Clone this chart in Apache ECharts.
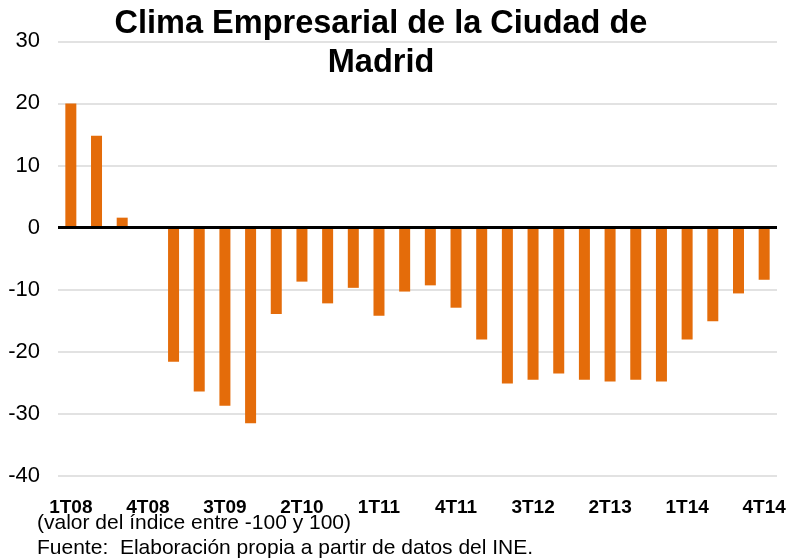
<!DOCTYPE html>
<html>
<head>
<meta charset="utf-8">
<script src="https://cdn.jsdelivr.net/npm/echarts@6/dist/echarts.min.js"></script>
<style>
html,body{margin:0;padding:0;background:#fff;}
#chart{width:793px;height:560px;}
</style>
</head>
<body>
<div id="chart"></div>
<script>
var categories = ['1T08','2T08','3T08','4T08','1T09','2T09','3T09','4T09','1T10','2T10','3T10','4T10','1T11','2T11','3T11','4T11','1T12','2T12','3T12','4T12','1T13','2T13','3T13','4T13','1T14','2T14','3T14','4T14'];
var values = [20, 14.8, 1.6, 0, -21.6, -26.4, -28.7, -31.5, -13.9, -8.7, -12.2, -9.7, -14.2, -10.3, -9.3, -12.9, -18.0, -25.1, -24.5, -23.5, -24.5, -24.8, -24.5, -24.8, -18.0, -15.1, -10.6, -8.4];
var titleText = 'Clima Empresarial de la Ciudad de\nMadrid';
var noteText = '(valor del índice entre -100 y 100)';
var sourceText = 'Fuente:  Elaboración propia a partir de datos del INE.';

var chart = echarts.init(document.getElementById('chart'), null, {renderer:'canvas'});
chart.setOption({
  backgroundColor: '#ffffff',
  animation: false,
  title: {
    text: titleText,
    left: 376,
    textAlign: 'center',
    top: 0,
    textStyle: {
      fontFamily: 'Liberation Sans, Arial, sans-serif',
      fontWeight: 'bold',
      fontSize: 32.5,
      lineHeight: 39,
      color: '#000'
    }
  },
  grid: { left: 58, right: 16, top: 41.3, bottom: 84, containLabel: false },
  xAxis: {
    type: 'category',
    data: categories,
    axisLine: { show: false, onZero: false },
    axisTick: { show: false },
    axisLabel: {
      interval: 2,
      margin: 22,
      fontFamily: 'Liberation Sans, Arial, sans-serif',
      fontWeight: 'bold',
      fontSize: 19,
      color: '#000'
    },
    splitLine: { show: false }
  },
  yAxis: {
    type: 'value',
    min: -40,
    max: 30,
    interval: 10,
    axisLine: { show: false },
    axisTick: { show: false },
    axisLabel: {
      margin: 18,
      fontFamily: 'Liberation Sans, Arial, sans-serif',
      fontSize: 22,
      color: '#000'
    },
    splitLine: { lineStyle: { color: '#d9d9d9', width: 1.5 } }
  },
  series: [{
    type: 'bar',
    data: values,
    barWidth: 11,
    itemStyle: { color: '#E46C0A' },
    markLine: {
      silent: true,
      symbol: 'none',
      label: { show: false },
      lineStyle: { color: '#000', width: 3, type: 'solid' },
      data: [{ yAxis: 0 }]
    }
  }],
  graphic: [
    {
      type: 'text', left: 37, top: 513,
      style: { text: noteText, fontFamily: 'Liberation Sans, Arial, sans-serif', fontSize: 21, fill: '#000' }
    },
    {
      type: 'text', left: 37, top: 538,
      style: { text: sourceText, fontFamily: 'Liberation Sans, Arial, sans-serif', fontSize: 21, fill: '#000' }
    }
  ]
});
</script>
</body>
</html>
